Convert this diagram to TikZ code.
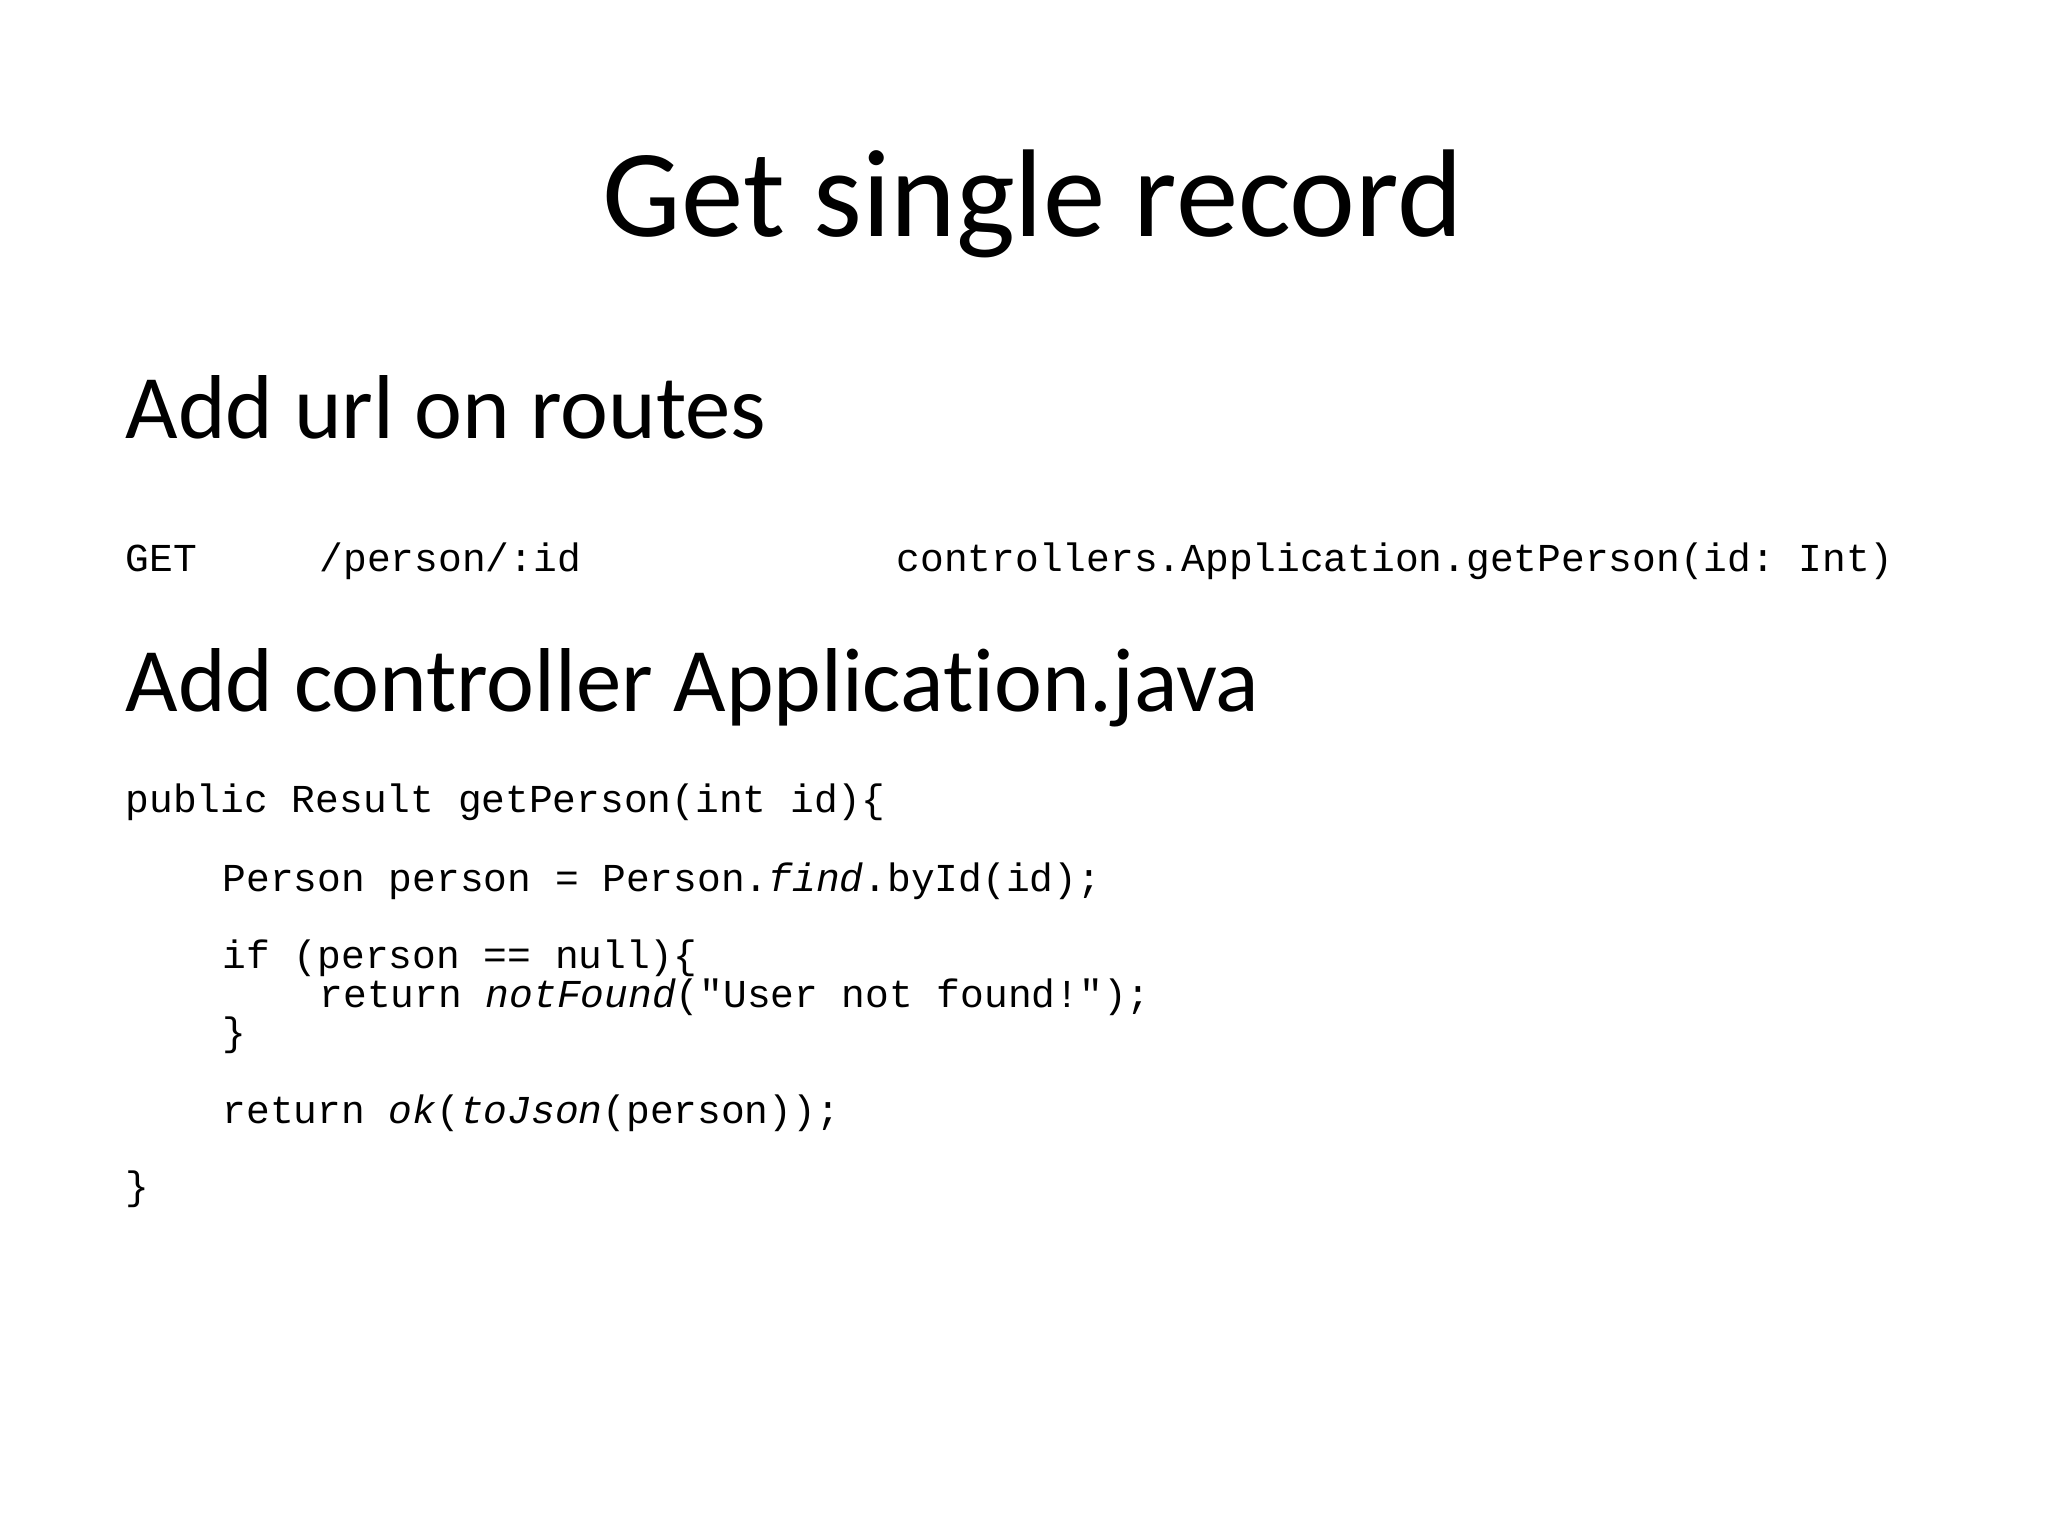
\documentclass[tikz,border=0pt]{standalone}
\usepackage{fontspec}
\setmainfont[Ligatures=NoCommon]{Carlito}
\setmonofont{Liberation Mono}
\begin{document}
\begin{tikzpicture}[x=0.01cm,y=-0.01cm,
  title/.style={anchor=base,inner sep=0pt,font=\fontsize{35.5}{42}\selectfont},
  head/.style={anchor=base west,inner sep=0pt,font=\fontsize{25.8}{31}\selectfont},
  code/.style={anchor=base west,inner sep=0pt,font=\ttfamily\fontsize{11.25}{13}\selectfont}]
\useasboundingbox (0,0) rectangle (2048,1536);
\node[title] (t) at (1033,236) {Get single record};
\node[head] (h1) at (125,438) {Add url on routes};
\node[code] (g1) at (125,571) {GET};
\node[code] (g2) at (319,571) {/person/:id};
\node[code] (g3) at (896,571) {controllers.Application.getPerson(id: Int)};
\node[code] (c1) at (125,812) {public Result getPerson(int id)\{};
\node[head] (h2) at (125,711) {Add controller Application.java};
\node[code] (c2) at (222,891) {Person person = Person.\textit{find}.byId(id);};
\node[code] (c3) at (222,968) {if (person == null)\{};
\node[code] (c4) at (319,1007) {return \textit{notFound}("User not found!");};
\node[code] (c5) at (222,1045) {\}};
\node[code] (c6) at (222,1123) {return \textit{ok}(\textit{toJson}(person));};
\node[code] (c7) at (125,1199) {\}};
\end{tikzpicture}
\end{document}
